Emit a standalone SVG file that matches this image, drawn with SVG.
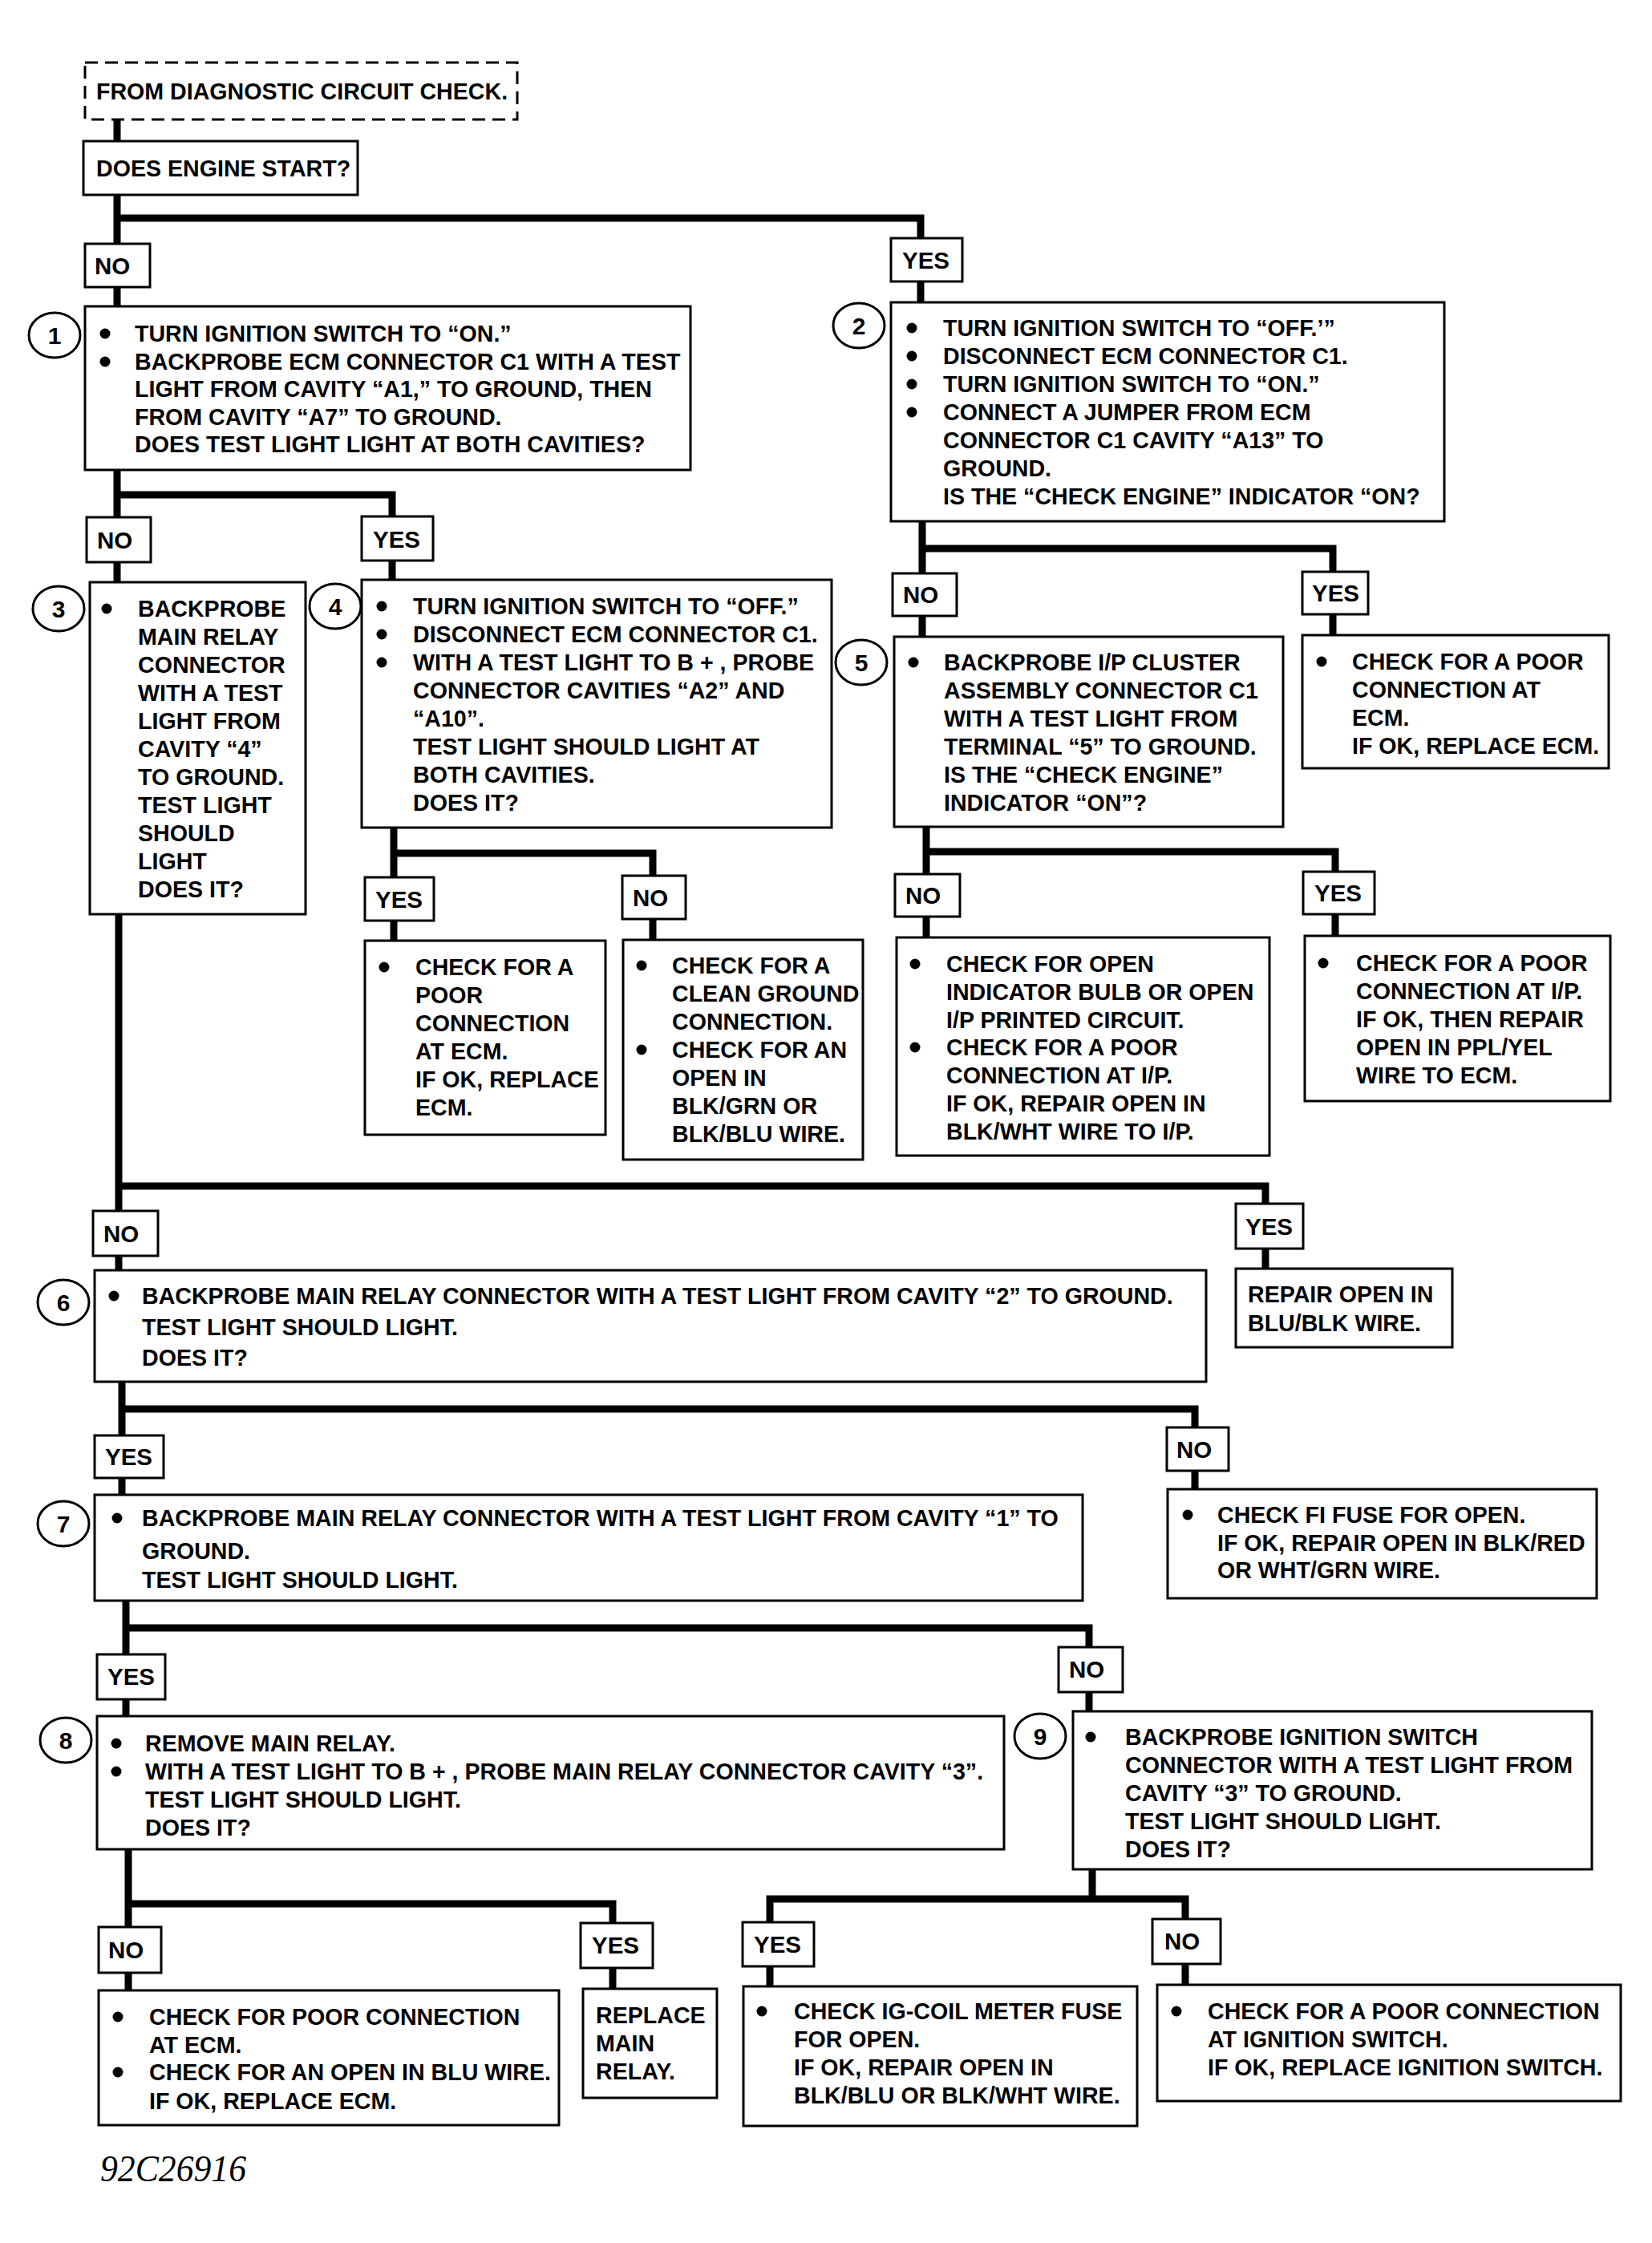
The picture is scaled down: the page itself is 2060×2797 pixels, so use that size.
<svg xmlns="http://www.w3.org/2000/svg" width="2060" height="2797" viewBox="0 0 2060 2797">
<style>
.bg{fill:#fff}
.box{fill:#fff;stroke:#000;stroke-width:3}
.dash{fill:#fff;stroke:#000;stroke-width:3;stroke-dasharray:16 9}
.c{fill:none;stroke:#000;stroke-width:9;stroke-linejoin:miter}
.circ{fill:none;stroke:#000;stroke-width:3}
.t{font-family:"Liberation Sans",Arial,sans-serif;font-weight:bold;font-size:28.6px;fill:#000}
.l{font-family:"Liberation Sans",Arial,sans-serif;font-weight:bold;font-size:29.5px;fill:#000}
.n{font-family:"Liberation Sans",Arial,sans-serif;font-weight:bold;font-size:30px;fill:#000;text-anchor:middle}
.f{font-family:"Liberation Serif","Times New Roman",serif;font-style:italic;font-size:46px;fill:#000}
</style>
<rect class="bg" x="0" y="0" width="2060" height="2797"/>
<g id="connectors">
<path class="c" d="M146 149V382"/>
<path class="c" d="M146 272H1148V377"/>
<path class="c" d="M146 586V726"/>
<path class="c" d="M146 617H489V723"/>
<path class="c" d="M1150 650V794"/>
<path class="c" d="M1150 684H1662V792"/>
<path class="c" d="M491 1032V1173"/>
<path class="c" d="M491 1064H814V1172"/>
<path class="c" d="M1155 1031V1169"/>
<path class="c" d="M1155 1062H1665V1167"/>
<path class="c" d="M148 1140V1584"/>
<path class="c" d="M148 1479H1578V1582"/>
<path class="c" d="M152 1723V1864"/>
<path class="c" d="M152 1757H1490V1857"/>
<path class="c" d="M157 1996V2140"/>
<path class="c" d="M157 2030H1358V2134"/>
<path class="c" d="M160 2306V2482"/>
<path class="c" d="M160 2374H764V2480"/>
<path class="c" d="M1362 2331V2368"/>
<path class="c" d="M960 2477V2368H1478V2475"/>
</g>
<g id="start">
<rect class="dash" x="106" y="78" width="539" height="71"/>
<text class="t" x="120" y="124">FROM DIAGNOSTIC CIRCUIT CHECK.</text>
</g>
<g id="q0">
<rect class="box" x="104" y="176" width="342" height="67"/>
<text class="t" x="120" y="220">DOES ENGINE START?</text>
</g>
<g id="lbl-no-0"><rect class="box" x="106" y="304" width="81" height="54"/><text class="l" x="118" y="342">NO</text></g>
<g id="lbl-yes-0"><rect class="box" x="1111" y="297" width="89" height="54"/><text class="l" x="1125" y="335">YES</text></g>
<g id="step1">
<ellipse class="circ" cx="68" cy="418" rx="32" ry="28"/><text class="n" x="68" y="429">1</text>
<rect class="box" x="106" y="382" width="755" height="204"/>
<circle cx="131" cy="416" r="6.5"/><circle cx="131" cy="451" r="6.5"/>
<text class="t"><tspan x="168" y="426">TURN IGNITION SWITCH TO “ON.”</tspan><tspan x="168" y="461">BACKPROBE ECM CONNECTOR C1 WITH A TEST</tspan><tspan x="168" y="495">LIGHT FROM CAVITY “A1,” TO GROUND, THEN</tspan><tspan x="168" y="530">FROM CAVITY “A7” TO GROUND.</tspan><tspan x="168" y="564">DOES TEST LIGHT LIGHT AT BOTH CAVITIES?</tspan></text>
</g>
<g id="step2">
<ellipse class="circ" cx="1071" cy="406" rx="32" ry="28"/><text class="n" x="1071" y="417">2</text>
<rect class="box" x="1111" y="377" width="690" height="273"/>
<circle cx="1137" cy="409" r="6.5"/><circle cx="1137" cy="444" r="6.5"/><circle cx="1137" cy="479" r="6.5"/><circle cx="1137" cy="514" r="6.5"/>
<text class="t"><tspan x="1176" y="419">TURN IGNITION SWITCH TO “OFF.’”</tspan><tspan x="1176" y="454">DISCONNECT ECM CONNECTOR C1.</tspan><tspan x="1176" y="489">TURN IGNITION SWITCH TO “ON.”</tspan><tspan x="1176" y="524">CONNECT A JUMPER FROM ECM</tspan><tspan x="1176" y="559">CONNECTOR C1 CAVITY “A13” TO</tspan><tspan x="1176" y="594">GROUND.</tspan><tspan x="1176" y="629">IS THE “CHECK ENGINE” INDICATOR “ON?</tspan></text>
</g>
<g id="lbl-no-1"><rect class="box" x="108" y="645" width="80" height="56"/><text class="l" x="121" y="684">NO</text></g>
<g id="lbl-yes-1"><rect class="box" x="451" y="644" width="89" height="55"/><text class="l" x="465" y="683">YES</text></g>
<g id="step3">
<ellipse class="circ" cx="73" cy="759" rx="32" ry="28"/><text class="n" x="73" y="770">3</text>
<rect class="box" x="112" y="726" width="269" height="414"/>
<circle cx="133" cy="759" r="6.5"/>
<text class="t"><tspan x="172" y="769">BACKPROBE</tspan><tspan x="172" y="804">MAIN RELAY</tspan><tspan x="172" y="839">CONNECTOR</tspan><tspan x="172" y="874">WITH A TEST</tspan><tspan x="172" y="909">LIGHT FROM</tspan><tspan x="172" y="944">CAVITY “4”</tspan><tspan x="172" y="979">TO GROUND.</tspan><tspan x="172" y="1014">TEST LIGHT</tspan><tspan x="172" y="1049">SHOULD</tspan><tspan x="172" y="1084">LIGHT</tspan><tspan x="172" y="1119">DOES IT?</tspan></text>
</g>
<g id="step4">
<ellipse class="circ" cx="418" cy="756" rx="32" ry="28"/><text class="n" x="418" y="767">4</text>
<rect class="box" x="451" y="723" width="586" height="309"/>
<circle cx="476" cy="756" r="6.5"/><circle cx="476" cy="791" r="6.5"/><circle cx="476" cy="826" r="6.5"/>
<text class="t"><tspan x="515" y="766">TURN IGNITION SWITCH TO “OFF.”</tspan><tspan x="515" y="801">DISCONNECT ECM CONNECTOR C1.</tspan><tspan x="515" y="836">WITH A TEST LIGHT TO B + , PROBE</tspan><tspan x="515" y="871">CONNECTOR CAVITIES “A2” AND</tspan><tspan x="515" y="906">“A10”.</tspan><tspan x="515" y="941">TEST LIGHT SHOULD LIGHT AT</tspan><tspan x="515" y="976">BOTH CAVITIES.</tspan><tspan x="515" y="1011">DOES IT?</tspan></text>
</g>
<g id="lbl-no-2"><rect class="box" x="1113" y="715" width="80" height="53"/><text class="l" x="1126" y="752">NO</text></g>
<g id="lbl-yes-2"><rect class="box" x="1624" y="713" width="82" height="53"/><text class="l" x="1636" y="750">YES</text></g>
<g id="step5">
<ellipse class="circ" cx="1074" cy="826" rx="32" ry="28"/><text class="n" x="1074" y="837">5</text>
<rect class="box" x="1115" y="794" width="485" height="237"/>
<circle cx="1139" cy="826" r="6.5"/>
<text class="t"><tspan x="1177" y="836">BACKPROBE I/P CLUSTER</tspan><tspan x="1177" y="871">ASSEMBLY CONNECTOR C1</tspan><tspan x="1177" y="906">WITH A TEST LIGHT FROM</tspan><tspan x="1177" y="941">TERMINAL “5” TO GROUND.</tspan><tspan x="1177" y="976">IS THE “CHECK ENGINE”</tspan><tspan x="1177" y="1011">INDICATOR “ON”?</tspan></text>
</g>
<g id="result2yes">
<rect class="box" x="1624" y="792" width="382" height="166"/>
<circle cx="1648" cy="825" r="6.5"/>
<text class="t"><tspan x="1686" y="835">CHECK FOR A POOR</tspan><tspan x="1686" y="870">CONNECTION AT</tspan><tspan x="1686" y="905">ECM.</tspan><tspan x="1686" y="940">IF OK, REPLACE ECM.</tspan></text>
</g>
<g id="lbl-yes-4"><rect class="box" x="455" y="1094" width="86" height="54"/><text class="l" x="468" y="1132">YES</text></g>
<g id="lbl-no-4"><rect class="box" x="776" y="1092" width="79" height="54"/><text class="l" x="789" y="1130">NO</text></g>
<g id="result4yes">
<rect class="box" x="455" y="1173" width="300" height="242"/>
<circle cx="479" cy="1206" r="6.5"/>
<text class="t"><tspan x="518" y="1216">CHECK FOR A</tspan><tspan x="518" y="1251">POOR</tspan><tspan x="518" y="1286">CONNECTION</tspan><tspan x="518" y="1321">AT ECM.</tspan><tspan x="518" y="1356">IF OK, REPLACE</tspan><tspan x="518" y="1391">ECM.</tspan></text>
</g>
<g id="result4no">
<rect class="box" x="777" y="1172" width="299" height="274"/>
<circle cx="800" cy="1204" r="6.5"/><circle cx="800" cy="1309" r="6.5"/>
<text class="t"><tspan x="838" y="1214">CHECK FOR A</tspan><tspan x="838" y="1249">CLEAN GROUND</tspan><tspan x="838" y="1284">CONNECTION.</tspan><tspan x="838" y="1319">CHECK FOR AN</tspan><tspan x="838" y="1354">OPEN IN</tspan><tspan x="838" y="1389">BLK/GRN OR</tspan><tspan x="838" y="1424">BLK/BLU WIRE.</tspan></text>
</g>
<g id="lbl-no-5"><rect class="box" x="1116" y="1090" width="81" height="53"/><text class="l" x="1129" y="1127">NO</text></g>
<g id="lbl-yes-5"><rect class="box" x="1625" y="1087" width="89" height="53"/><text class="l" x="1639" y="1124">YES</text></g>
<g id="result5no">
<rect class="box" x="1118" y="1169" width="465" height="272"/>
<circle cx="1141" cy="1202" r="6.5"/><circle cx="1141" cy="1306" r="6.5"/>
<text class="t"><tspan x="1180" y="1212">CHECK FOR OPEN</tspan><tspan x="1180" y="1247">INDICATOR BULB OR OPEN</tspan><tspan x="1180" y="1282">I/P PRINTED CIRCUIT.</tspan><tspan x="1180" y="1316">CHECK FOR A POOR</tspan><tspan x="1180" y="1351">CONNECTION AT I/P.</tspan><tspan x="1180" y="1386">IF OK, REPAIR OPEN IN</tspan><tspan x="1180" y="1421">BLK/WHT WIRE TO I/P.</tspan></text>
</g>
<g id="result5yes">
<rect class="box" x="1627" y="1167" width="381" height="206"/>
<circle cx="1650" cy="1201" r="6.5"/>
<text class="t"><tspan x="1691" y="1211">CHECK FOR A POOR</tspan><tspan x="1691" y="1246">CONNECTION AT I/P.</tspan><tspan x="1691" y="1281">IF OK, THEN REPAIR</tspan><tspan x="1691" y="1316">OPEN IN PPL/YEL</tspan><tspan x="1691" y="1351">WIRE TO ECM.</tspan></text>
</g>
<g id="lbl-no-3"><rect class="box" x="116" y="1510" width="81" height="56"/><text class="l" x="129" y="1549">NO</text></g>
<g id="lbl-yes-3"><rect class="box" x="1541" y="1501" width="84" height="56"/><text class="l" x="1553" y="1540">YES</text></g>
<g id="step6">
<ellipse class="circ" cx="79" cy="1624" rx="32" ry="28"/><text class="n" x="79" y="1635">6</text>
<rect class="box" x="118" y="1584" width="1386" height="139"/>
<circle cx="142" cy="1616" r="6.5"/>
<text class="t"><tspan x="177" y="1626">BACKPROBE MAIN RELAY CONNECTOR WITH A TEST LIGHT FROM CAVITY “2” TO GROUND.</tspan><tspan x="177" y="1665">TEST LIGHT SHOULD LIGHT.</tspan><tspan x="177" y="1703">DOES IT?</tspan></text>
</g>
<g id="result3yes">
<rect class="box" x="1541" y="1582" width="270" height="98"/>
<text class="t"><tspan x="1556" y="1624">REPAIR OPEN IN</tspan><tspan x="1556" y="1660">BLU/BLK WIRE.</tspan></text>
</g>
<g id="lbl-yes-6"><rect class="box" x="118" y="1790" width="86" height="53"/><text class="l" x="131" y="1827">YES</text></g>
<g id="lbl-no-6"><rect class="box" x="1455" y="1780" width="77" height="54"/><text class="l" x="1467" y="1818">NO</text></g>
<g id="step7">
<ellipse class="circ" cx="79" cy="1900" rx="32" ry="28"/><text class="n" x="79" y="1911">7</text>
<rect class="box" x="118" y="1864" width="1232" height="132"/>
<circle cx="146" cy="1893" r="6.5"/>
<text class="t"><tspan x="177" y="1903">BACKPROBE MAIN RELAY CONNECTOR WITH A TEST LIGHT FROM CAVITY “1” TO</tspan><tspan x="177" y="1944">GROUND.</tspan><tspan x="177" y="1980">TEST LIGHT SHOULD LIGHT.</tspan></text>
</g>
<g id="result6no">
<rect class="box" x="1456" y="1857" width="535" height="136"/>
<circle cx="1481" cy="1889" r="6.5"/>
<text class="t"><tspan x="1518" y="1899">CHECK FI FUSE FOR OPEN.</tspan><tspan x="1518" y="1934">IF OK, REPAIR OPEN IN BLK/RED</tspan><tspan x="1518" y="1968">OR WHT/GRN WIRE.</tspan></text>
</g>
<g id="lbl-yes-7"><rect class="box" x="121" y="2063" width="85" height="56"/><text class="l" x="134" y="2101">YES</text></g>
<g id="lbl-no-7"><rect class="box" x="1320" y="2054" width="80" height="56"/><text class="l" x="1333" y="2092">NO</text></g>
<g id="step8">
<ellipse class="circ" cx="82" cy="2170" rx="32" ry="28"/><text class="n" x="82" y="2181">8</text>
<rect class="box" x="121" y="2140" width="1131" height="166"/>
<circle cx="145" cy="2174" r="6.5"/><circle cx="145" cy="2209" r="6.5"/>
<text class="t"><tspan x="181" y="2184">REMOVE MAIN RELAY.</tspan><tspan x="181" y="2219">WITH A TEST LIGHT TO B + , PROBE MAIN RELAY CONNECTOR CAVITY “3”.</tspan><tspan x="181" y="2254">TEST LIGHT SHOULD LIGHT.</tspan><tspan x="181" y="2289">DOES IT?</tspan></text>
</g>
<g id="step9">
<ellipse class="circ" cx="1297" cy="2165" rx="32" ry="28"/><text class="n" x="1297" y="2176">9</text>
<rect class="box" x="1338" y="2134" width="647" height="197"/>
<circle cx="1360" cy="2166" r="6.5"/>
<text class="t"><tspan x="1403" y="2176">BACKPROBE IGNITION SWITCH</tspan><tspan x="1403" y="2211">CONNECTOR WITH A TEST LIGHT FROM</tspan><tspan x="1403" y="2246">CAVITY “3” TO GROUND.</tspan><tspan x="1403" y="2281">TEST LIGHT SHOULD LIGHT.</tspan><tspan x="1403" y="2316">DOES IT?</tspan></text>
</g>
<g id="lbl-no-8"><rect class="box" x="123" y="2403" width="78" height="57"/><text class="l" x="135" y="2442">NO</text></g>
<g id="lbl-yes-8"><rect class="box" x="724" y="2398" width="90" height="56"/><text class="l" x="738" y="2436">YES</text></g>
<g id="lbl-yes-9"><rect class="box" x="926" y="2397" width="89" height="55"/><text class="l" x="940" y="2435">YES</text></g>
<g id="lbl-no-9"><rect class="box" x="1437" y="2393" width="85" height="56"/><text class="l" x="1452" y="2431">NO</text></g>
<g id="result8no">
<rect class="box" x="123" y="2482" width="574" height="168"/>
<circle cx="147" cy="2515" r="6.5"/><circle cx="147" cy="2584" r="6.5"/>
<text class="t"><tspan x="186" y="2525">CHECK FOR POOR CONNECTION</tspan><tspan x="186" y="2560">AT ECM.</tspan><tspan x="186" y="2594">CHECK FOR AN OPEN IN BLU WIRE.</tspan><tspan x="186" y="2630">IF OK, REPLACE ECM.</tspan></text>
</g>
<g id="result8yes">
<rect class="box" x="727" y="2480" width="167" height="136"/>
<text class="t"><tspan x="743" y="2523">REPLACE</tspan><tspan x="743" y="2558">MAIN</tspan><tspan x="743" y="2593">RELAY.</tspan></text>
</g>
<g id="result9yes">
<rect class="box" x="927" y="2477" width="491" height="174"/>
<circle cx="950" cy="2508" r="6.5"/>
<text class="t"><tspan x="990" y="2518">CHECK IG-COIL METER FUSE</tspan><tspan x="990" y="2553">FOR OPEN.</tspan><tspan x="990" y="2588">IF OK, REPAIR OPEN IN</tspan><tspan x="990" y="2623">BLK/BLU OR BLK/WHT WIRE.</tspan></text>
</g>
<g id="result9no">
<rect class="box" x="1443" y="2475" width="578" height="145"/>
<circle cx="1467" cy="2508" r="6.5"/>
<text class="t"><tspan x="1506" y="2518">CHECK FOR A POOR CONNECTION</tspan><tspan x="1506" y="2553">AT IGNITION SWITCH.</tspan><tspan x="1506" y="2588">IF OK, REPLACE IGNITION SWITCH.</tspan></text>
</g>
<text class="f" x="125" y="2720" textLength="182" lengthAdjust="spacingAndGlyphs">92C26916</text>
</svg>
